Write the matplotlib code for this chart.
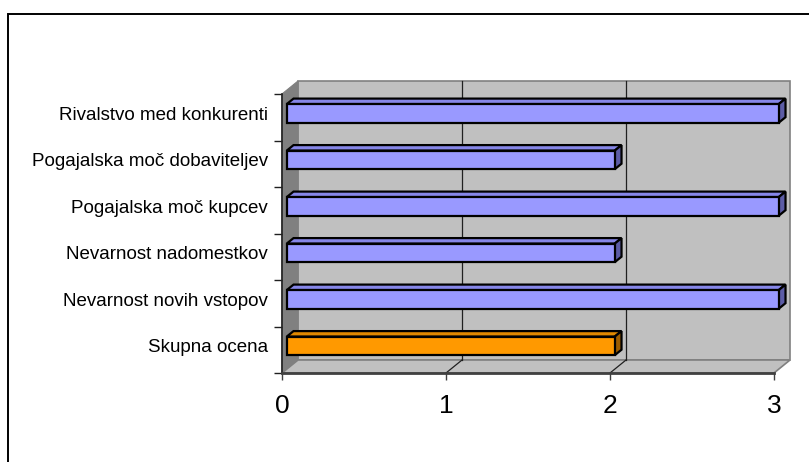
import matplotlib
matplotlib.use("Agg")
import numpy as np
from matplotlib import pyplot as plt
from matplotlib.patches import Polygon, Rectangle

plt.rcParams['font.family'] = ['Liberation Sans', 'DejaVu Sans']

# bottom to top
categories = ["Skupna ocena",
              "Nevarnost novih vstopov",
              "Nevarnost nadomestkov",
              "Pogajalska moč kupcev",
              "Pogajalska moč dobaviteljev",
              "Rivalstvo med konkurenti"]
values = [2, 3, 2, 3, 2, 3]
xticks = [0, 1, 2, 3]

face_cols = ["#FF9900"] + ["#9999FF"] * 5
top_cols = ["#E08800"] + ["#8686E8"] * 5
side_cols = ["#9C5C00"] + ["#5C5CA6"] * 5

xmax = 3
n = len(categories)
# 3D depth of the walls, in data units
dx = 16 / 164.0
dy = 13 / 46.5
f0, f1 = 0.3, 0.72   # front / back of the bars as a fraction of depth
bh = 0.4

fig = plt.figure(figsize=(8.09, 4.62), dpi=100)
fig.patches.append(Rectangle((8 / 809, -0.1), 1.2, (462 - 14) / 462 + 0.1,
                             transform=fig.transFigure, fill=False,
                             ec="black", lw=1.4, zorder=0))
ax = fig.add_axes([282 / 809, (462 - 373) / 462, 492 / 809, 279 / 462])
ax.set_facecolor("none")
ax.set_xlim(0, xmax)
ax.set_ylim(-0.5, n - 0.5)

y0, y1 = -0.5, n - 0.5
# back wall
ax.add_patch(Rectangle((dx, y0 + dy), xmax, n, fc="#C0C0C0", ec="#808080",
                       lw=1.2, clip_on=False, zorder=1))
# left side wall
ax.add_patch(Polygon([(0, y0), (0, y1), (dx, y1 + dy), (dx, y0 + dy)],
                     closed=True, fc="#808080", ec="#808080", lw=0.8,
                     clip_on=False, zorder=1))
# floor
ax.add_patch(Polygon([(0, y0), (xmax, y0), (xmax + dx, y0 + dy), (dx, y0 + dy)],
                     closed=True, fc="#C0C0C0", ec="#808080", lw=1.2,
                     clip_on=False, zorder=1))

# gridlines on the back wall and floor
for k in xticks[1:-1]:
    ax.plot([k + dx, k + dx], [y0 + dy, y1 + dy], color="#202020", lw=0.9,
            clip_on=False, zorder=2)
    ax.plot([k, k + dx], [y0, y0 + dy], color="#202020", lw=0.9,
            clip_on=False, zorder=2)

# bars: front faces, then top and end faces
ypos = np.arange(n)
ax.barh(ypos + f0 * dy, values, height=bh, left=f0 * dx, color=face_cols,
        edgecolor="black", linewidth=1.6, zorder=4, clip_on=False)
for i, v in enumerate(values):
    yt = i + f0 * dy + bh / 2
    yb = i + f0 * dy - bh / 2
    ddx = (f1 - f0) * dx
    ddy = (f1 - f0) * dy
    xl = f0 * dx
    xr = v + f0 * dx
    ax.add_patch(Polygon([(xl, yt), (xr, yt), (xr + ddx, yt + ddy), (xl + ddx, yt + ddy)],
                         closed=True, fc=top_cols[i], ec="black", lw=1.6,
                         clip_on=False, zorder=3))
    ax.add_patch(Polygon([(xr, yb), (xr, yt), (xr + ddx, yt + ddy), (xr + ddx, yb + ddy)],
                         closed=True, fc=side_cols[i], ec="black", lw=1.6,
                         clip_on=False, zorder=3))

for s in ["top", "right"]:
    ax.spines[s].set_visible(False)
ax.spines["left"].set_color("#202020")
ax.spines["bottom"].set_color("#404040")
ax.spines["left"].set_linewidth(1.2)
ax.spines["bottom"].set_linewidth(2.0)
ax.spines["left"].set_zorder(5)
ax.spines["bottom"].set_zorder(5)

ax.set_xticks(xticks)
ax.set_xticklabels([str(t) for t in xticks], fontsize=19)
ax.tick_params(axis="x", direction="out", length=5, width=1, color="#404040", pad=10)

ax.set_yticks(np.arange(-0.5, n, 1.0))
ax.set_yticklabels([])
ax.set_yticks(ypos + f0 * dy, minor=True)
ax.set_yticklabels(categories, minor=True, fontsize=13.5)
ax.tick_params(axis="y", which="major", direction="out", length=6, width=1, color="#202020")
ax.tick_params(axis="y", which="minor", length=0, pad=10)

fig.savefig("out.png", dpi=100)
